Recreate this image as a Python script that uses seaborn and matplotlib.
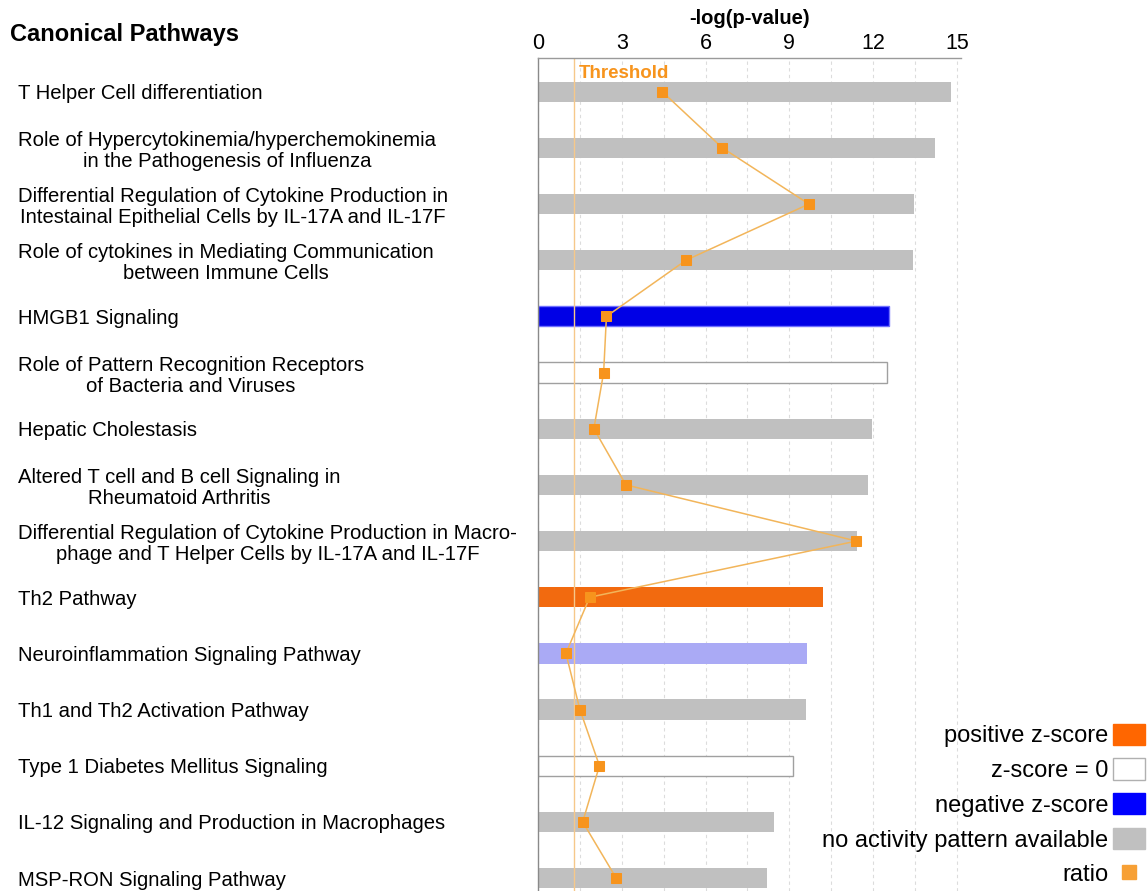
"""Canonical pathways bar chart: -log(p-value) bars with ratio overlay."""
import numpy as np
import seaborn as sns
import matplotlib.pyplot as plt
from matplotlib.patches import Patch
from matplotlib.lines import Line2D
from matplotlib.ticker import MultipleLocator

PATHWAYS = [
    'T Helper Cell differentiation',
    'Role of Hypercytokinemia/hyperchemokinemia\nin the Pathogenesis of Influenza',
    'Differential Regulation of Cytokine Production in\nIntestainal Epithelial Cells by IL-17A and IL-17F',
    'Role of cytokines in Mediating Communication\nbetween Immune Cells',
    'HMGB1 Signaling',
    'Role of Pattern Recognition Receptors\nof Bacteria and Viruses',
    'Hepatic Cholestasis',
    'Altered T cell and B cell Signaling in\nRheumatoid Arthritis',
    'Differential Regulation of Cytokine Production in Macro-\nphage and T Helper Cells by IL-17A and IL-17F',
    'Th2 Pathway',
    'Neuroinflammation Signaling Pathway',
    'Th1 and Th2 Activation Pathway',
    'Type 1 Diabetes Mellitus Signaling',
    'IL-12 Signaling and Production in Macrophages',
    'MSP-RON Signaling Pathway',
]
NEG_LOG_P = [14.8, 14.2, 13.45, 13.43, 12.57, 12.5, 11.96, 11.82, 11.42,
             10.2, 9.63, 9.6, 9.13, 8.45, 8.2]
RATIO = [0.089, 0.132, 0.194, 0.106, 0.049, 0.047, 0.040, 0.063, 0.228,
         0.037, 0.020, 0.030, 0.044, 0.032, 0.056]
ZSCORE_CLASS = ['none', 'none', 'none', 'none', 'neg', 'zero', 'none', 'none', 'none',
                'pos', 'neg_weak', 'none', 'zero', 'none', 'none']
THRESHOLD = 1.3

CLASS_COLORS = {
    'none': '#c0c0c0', 'neg': '#0000e6', 'neg_weak': '#aaaaf5',
    'pos': '#f26a0f', 'zero': '#ffffff',
}
LEGEND_ITEMS = [('positive z-score', '#ff6600'), ('z-score = 0', '#ffffff'),
                ('negative z-score', '#0000ff'), ('no activity pattern available', '#c0c0c0')]

sns.set_style('white')
plt.rcParams['font.family'] = ['Liberation Sans', 'DejaVu Sans']
plt.rcParams['text.color'] = 'black'
plt.rcParams['xtick.color'] = 'black'
plt.rcParams['ytick.color'] = 'black'
plt.rcParams['axes.labelcolor'] = 'black'

fig = plt.figure(figsize=(11.48, 8.91), dpi=100)
xmax = 15.15
ylims = (14.23, -0.6)
ax = fig.add_axes([538 / 1148, 0.0, xmax * 27.93 / 1148, 1 - 58 / 891])

pos = np.arange(len(PATHWAYS))
colors = [CLASS_COLORS[c] for c in ZSCORE_CLASS]
sns.barplot(x=NEG_LOG_P, y=pos, hue=pos, palette=colors, orient='y',
            legend=False, width=0.36, ax=ax, saturation=1)
for bar, cls in zip(ax.patches, ZSCORE_CLASS):
    if cls == 'zero':
        bar.set_edgecolor('#a0a0a0')
        bar.set_linewidth(1)
    elif cls == 'neg':
        bar.set_edgecolor('#7070ff')
        bar.set_linewidth(1)
    else:
        bar.set_linewidth(0)

# ratio overlay on a hidden twin axis
ax2 = ax.twiny()
sns.lineplot(x=RATIO, y=pos, orient='y', sort=False, ax=ax2, color='#f2b55a',
             linewidth=1.1, marker='s', markersize=7, markerfacecolor='#f7941d',
             markeredgecolor='#f7941d')
ax2.set_xlim(0, 0.3 * xmax / 15)
ax2.set_ylim(*ylims)
ax2.axis('off')

ax.set_xlim(0, xmax)
ax.set_ylim(*ylims)
ax.xaxis.tick_top()
ax.xaxis.set_label_position('top')
ax.xaxis.set_major_locator(MultipleLocator(3))
ax.xaxis.set_minor_locator(MultipleLocator(1.5))
ax.grid(axis='x', which='both', color='#dcdcdc', linestyle=(0, (3, 3)), linewidth=0.8)
ax.set_axisbelow(True)
ax.tick_params(axis='x', which='both', length=0, pad=3, labelsize=15.5)
ax.set_xlabel('-log(p-value)', fontsize=14.5, fontweight='bold', labelpad=6)

ax.set_yticks(pos)
ax.set_yticklabels(PATHWAYS, fontsize=14.6, ha='left', multialignment='center',
                   linespacing=1.15)
ax.tick_params(axis='y', length=0, pad=(538 - 18) * 72 / 100)
ax.set_ylabel('')

for side in ['right', 'bottom']:
    ax.spines[side].set_visible(False)
ax.spines['top'].set_color('#9a9a9a')
ax.spines['left'].set_color('#8a8a8a')
ax.spines['top'].set_linewidth(1)
ax.spines['left'].set_linewidth(1)

ax.axvline(THRESHOLD, color='#f6c88a', linewidth=1, zorder=1)
ax.text(THRESHOLD + 0.15, -0.33, 'Threshold', color='#f7941d', fontsize=13.5,
        fontweight='bold', va='center', ha='left')

fig.text(10 / 1148, 1 - 34 / 891, 'Canonical Pathways', fontsize=17,
         fontweight='bold', va='center', ha='left')

handles = [Patch(facecolor=c, edgecolor='#b0b0b0' if c == '#ffffff' else c, label=l)
           for l, c in LEGEND_ITEMS]
handles.append(Line2D([], [], marker='s', color='none', markerfacecolor='#f7a035',
                      markeredgecolor='#f7a035', markersize=10, label='ratio'))
fig.legend(handles=handles, loc='lower right', bbox_to_anchor=(1.0075, -0.008),
           frameon=False, markerfirst=False, fontsize=17, handlelength=1.35,
           handleheight=1.0, handletextpad=0.2, labelspacing=0.47, borderpad=0)

fig.savefig('out.png', dpi=100)
